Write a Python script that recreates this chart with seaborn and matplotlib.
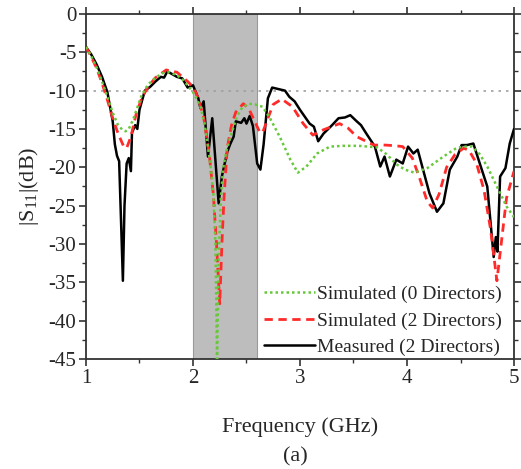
import numpy as np
import pandas as pd
import seaborn as sns
import matplotlib
matplotlib.use("Agg")
import matplotlib.pyplot as plt
from matplotlib.ticker import MultipleLocator

# ---- data ----
freq_sim0 = [1.00, 1.05, 1.10, 1.15, 1.20, 1.25, 1.30, 1.34, 1.37, 1.40, 1.44, 1.48, 1.52, 1.58,
             1.65, 1.72, 1.78, 1.85, 1.90, 1.95, 2.00, 2.04, 2.07, 2.11, 2.14, 2.17, 2.19, 2.21,
             2.225, 2.24, 2.26, 2.28, 2.31, 2.35, 2.41, 2.46, 2.52, 2.58, 2.65, 2.72, 2.81, 2.91,
             2.98, 3.06, 3.16, 3.28, 3.40, 3.55, 3.72, 3.81, 3.90, 3.98, 4.07, 4.19, 4.34, 4.45,
             4.52, 4.61, 4.68, 4.75, 4.84, 4.93, 5.00]
s11_sim0 = [-4.3, -5.5, -7.0, -8.8, -10.8, -12.9, -14.5, -15.1, -15.3, -15.0, -13.8, -12.2, -10.6, -9.2,
            -8.3, -7.7, -7.6, -8.0, -8.5, -9.3, -10.2, -11.2, -12.1, -14.5, -17.3, -20.5, -23.4, -30.0,
            -45.0, -32.0, -24.0, -20.3, -18.0, -16.0, -13.4, -12.2, -11.7, -11.8, -12.1, -13.6, -16.0, -19.0,
            -20.7, -19.9, -18.2, -17.3, -17.2, -17.2, -17.4, -18.3, -19.6, -20.3, -20.7, -20.1, -18.6, -17.6,
            -17.3, -17.3, -18.3, -19.9, -22.5, -25.1, -26.5]

freq_sim2 = [1.00, 1.05, 1.10, 1.15, 1.20, 1.25, 1.30, 1.35, 1.38, 1.42, 1.47, 1.52, 1.58, 1.65,
             1.75, 1.85, 1.90, 1.95, 2.00, 2.05, 2.10, 2.15, 2.19, 2.22, 2.25, 2.27, 2.29, 2.32,
             2.36, 2.40, 2.47, 2.52, 2.57, 2.62, 2.65, 2.70, 2.75, 2.83, 2.93, 3.03, 3.12, 3.22,
             3.37, 3.45, 3.53, 3.69, 3.80, 3.90, 3.96, 4.05, 4.12, 4.19, 4.24, 4.30, 4.37, 4.45,
             4.53, 4.58, 4.65, 4.72, 4.78, 4.84, 4.88, 4.93, 5.00]
s11_sim2 = [-4.3, -5.6, -7.1, -9.0, -11.2, -13.6, -15.6, -17.2, -17.5, -16.0, -13.0, -11.0, -9.5, -8.3,
            -7.3, -7.6, -8.2, -8.8, -9.5, -11.0, -13.5, -18.0, -23.5, -30.0, -37.8, -30.0, -24.0, -17.5,
            -14.5, -12.8, -11.7, -12.3, -13.8, -15.3, -15.5, -13.6, -11.8, -11.1, -12.1, -14.3, -15.8, -15.1,
            -14.3, -14.9, -16.0, -17.1, -17.1, -17.2, -17.3, -18.8, -21.5, -24.5, -25.3, -23.5, -20.0, -18.3,
            -17.5, -17.8, -19.5, -23.0, -28.0, -34.8, -30.0, -24.0, -20.5]

freq_meas = [1.00, 1.05, 1.10, 1.15, 1.20, 1.25, 1.27, 1.29, 1.31, 1.33, 1.345, 1.36, 1.38, 1.40,
             1.42, 1.43, 1.46, 1.48, 1.50, 1.55, 1.60, 1.65, 1.70, 1.73, 1.76, 1.80, 1.85, 1.90,
             1.95, 2.00, 2.05, 2.07, 2.10, 2.14, 2.18, 2.24, 2.27, 2.32, 2.35, 2.38, 2.40, 2.45,
             2.48, 2.50, 2.53, 2.56, 2.60, 2.63, 2.66, 2.70, 2.74, 2.80, 2.86, 2.90, 2.95, 3.00,
             3.05, 3.09, 3.13, 3.17, 3.22, 3.30, 3.36, 3.42, 3.47, 3.53, 3.57, 3.62, 3.70, 3.75,
             3.79, 3.84, 3.90, 3.96, 4.01, 4.06, 4.10, 4.15, 4.21, 4.28, 4.34, 4.40, 4.47, 4.51,
             4.56, 4.62, 4.68, 4.75, 4.79, 4.81, 4.83, 4.845, 4.87, 4.92, 4.96, 5.00]
s11_meas = [-4.3, -5.3, -6.6, -8.2, -10.2, -14.0, -17.0, -18.5, -19.2, -28.0, -34.8, -25.0, -19.5, -18.8,
            -20.5, -15.5, -14.5, -15.0, -12.5, -10.0, -9.5, -8.8, -8.2, -8.3, -7.5, -7.8, -8.2, -8.4,
            -9.6, -9.3, -11.0, -12.3, -11.4, -18.6, -13.6, -24.7, -21.2, -18.0, -16.9, -16.0, -14.0, -14.2,
            -13.6, -14.3, -13.3, -14.6, -19.5, -20.3, -17.0, -11.0, -9.6, -9.8, -10.0, -10.8, -11.4, -12.5,
            -13.5, -14.3, -14.7, -16.6, -15.6, -14.5, -13.6, -13.5, -13.2, -14.0, -14.5, -15.6, -17.3, -19.9,
            -18.6, -21.2, -19.0, -19.5, -17.3, -18.2, -17.7, -20.3, -23.4, -25.8, -24.7, -20.3, -18.6, -17.1,
            -17.1, -16.9, -19.5, -22.5, -28.6, -31.7, -29.1, -31.0, -21.2, -20.1, -16.9, -15.0]

labels = ["Simulated (0 Directors)", "Simulated (2 Directors)", "Measured (2 Directors)"]
band = [2.0, 2.6]
ref_level = -10
x_ticks = [1, 2, 3, 4, 5]
y_ticks = list(range(-45, 1, 5))

df0 = pd.DataFrame({"f": freq_sim0, "s": s11_sim0})
df2 = pd.DataFrame({"f": freq_sim2, "s": s11_sim2})
dfm = pd.DataFrame({"f": freq_meas, "s": s11_meas})

sns.set_style("ticks")
plt.rcParams["font.family"] = ["Liberation Serif", "DejaVu Serif"]
plt.rcParams["mathtext.fontset"] = "custom"
plt.rcParams["mathtext.rm"] = "Liberation Serif"
plt.rcParams["mathtext.it"] = "Liberation Serif"
plt.rcParams["axes.unicode_minus"] = False

fig = plt.figure(figsize=(5.21, 4.69), dpi=100)
ax = fig.add_axes([0.165, 0.2346, 0.8216, 0.7356])

ax.axvspan(band[0], band[1], facecolor="#bdbdbd", edgecolor="#9a9a9a", lw=0.8, zorder=0)
ax.axhline(ref_level, color="#a0a0a0", ls=(0, (1.5, 3)), lw=1.2, zorder=1)

sns.lineplot(data=dfm, x="f", y="s", ax=ax, color="black", lw=1.8, sort=False,
             label=labels[2], zorder=3)
sns.lineplot(data=df2, x="f", y="s", ax=ax, color="#ff2a2a", lw=2.0, sort=False,
             label=labels[1], zorder=4)
sns.lineplot(data=df0, x="f", y="s", ax=ax, color="#66c83a", lw=1.8, sort=False,
             label=labels[0], zorder=5)
lines = ax.get_lines()
lines[-2].set_linestyle((0, (3, 2)))
lines[-1].set_linestyle((0, (1, 1.2)))

ax.set_xlim(1, 5)
ax.set_ylim(-45, 0)
ax.set_xticks(x_ticks)
ax.set_yticks(y_ticks)
ax.xaxis.set_minor_locator(MultipleLocator(0.5))
ax.yaxis.set_minor_locator(MultipleLocator(2.5))
ax.tick_params(which="both", direction="out", top=True, right=True,
               labeltop=False, labelright=False, labelsize=15, color="#333333", pad=2)
ax.tick_params(which="major", length=5, width=1.2)
ax.tick_params(which="minor", length=3, width=1.0)
for sp in ax.spines.values():
    sp.set_linewidth(1.3)
    sp.set_color("#333333")

ax.set_xlabel("Frequency (GHz)", fontsize=16, labelpad=21)
ax.set_ylabel(r"|S$_{11}$|(dB)", fontsize=16, labelpad=5)

h, l = ax.get_legend_handles_labels()
order = [2, 1, 0]
ax.legend([h[i] for i in order], [l[i] for i in order], loc="lower right",
          bbox_to_anchor=(1.0, -0.025), frameon=False, fontsize=14,
          handlelength=2.6, handletextpad=0.15, labelspacing=0.45, borderaxespad=0.2)

fig.text(0.566, 1 - 457 / 469, "(a)", ha="center", va="center", fontsize=16)

fig.savefig("out.png", dpi=100)
